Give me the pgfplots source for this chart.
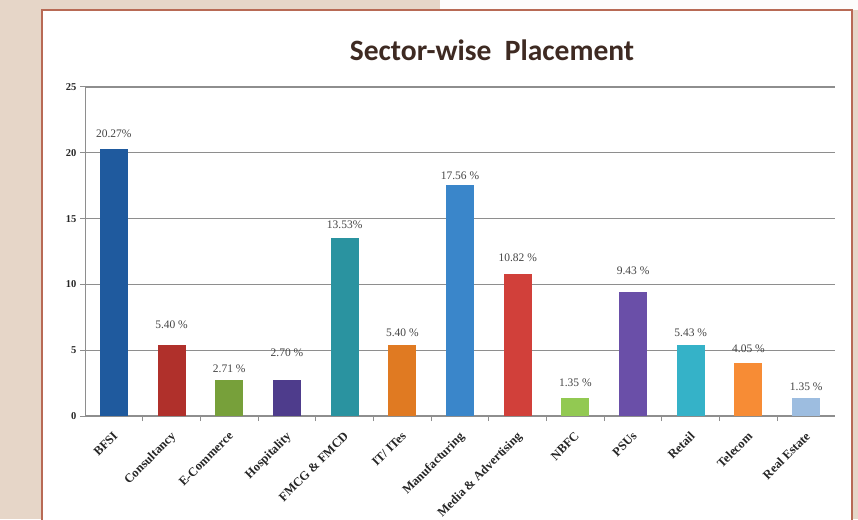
\documentclass[border=0pt]{standalone}
\usepackage{pgfplots}
\pgfplotsset{compat=1.18}
\usepackage{fontspec}
\setmainfont{Liberation Serif}
\newfontfamily\titlefont{Carlito}

\definecolor{bgbeige}{HTML}{E6D6C8}
\definecolor{framebrown}{HTML}{B86A55}
\definecolor{titlebrown}{HTML}{3E2A22}
\definecolor{labelgray}{HTML}{444444}
\definecolor{gridgray}{HTML}{8E8E8E}
\definecolor{cBFSI}{HTML}{1F5A9E}
\definecolor{cCons}{HTML}{B0302B}
\definecolor{cEcom}{HTML}{77A03A}
\definecolor{cHosp}{HTML}{4E3C8C}
\definecolor{cFMCG}{HTML}{2A93A0}
\definecolor{cIT}{HTML}{E07A22}
\definecolor{cManu}{HTML}{3A86CA}
\definecolor{cMedia}{HTML}{D1403A}
\definecolor{cNBFC}{HTML}{92C952}
\definecolor{cPSU}{HTML}{6A4FA8}
\definecolor{cRetail}{HTML}{35B2C8}
\definecolor{cTel}{HTML}{F78C35}
\definecolor{cReal}{HTML}{9DBDE0}

\begin{document}
\begin{tikzpicture}
\useasboundingbox (0pt,0pt) rectangle (858pt,519pt);
\fill[bgbeige] (0pt,0pt) rectangle (858pt,519pt);
\fill[white!92!bgbeige] (440pt,509pt) rectangle (858pt,519pt);
\fill[white, draw=framebrown, line width=1.5pt] (42pt,-5pt) rectangle (852pt,509pt);
\node[font=\titlefont\bfseries\fontsize{29.5}{31}\selectfont, text=titlebrown] at (492pt,469pt) {Sector-wise\ \ Placement};

\begin{axis}[
    at={(85pt,103pt)}, anchor=south west,
    scale only axis,
    width=750pt, height=329pt,
    xmin=-0.5, xmax=12.5,
    ymin=0, ymax=25,
    ytick={0,5,...,25},
    xtick={0,...,12},
    xticklabels={BFSI, Consultancy, E-Commerce, Hospitality, FMCG \& FMCD, IT/ ITes, Manufacturing, Media \& Advertising, NBFC, PSUs, Retail, Telecom, Real Estate},
    minor x tick num=1,
    major x tick style={draw=none},
    tick align=outside,
    tick style={gridgray, line width=1pt},
    major tick length=5pt, minor tick length=5pt,
    axis x line*=bottom, axis y line*=left,
    axis line style={gridgray, line width=1pt, -},
    ymajorgrids,
    grid style={gridgray, line width=1.3pt},
    /pgf/number format/assume math mode=true,
    yticklabel style={font=\bfseries\fontsize{10.5}{12}\selectfont, text=black!85},
    xticklabel style={font=\bfseries\fontsize{12.5}{13}\selectfont, text=black!85, rotate=45, anchor=north east, inner sep=0pt, xshift=-8pt, yshift=-6pt},
    ybar, bar width=28pt, bar shift=0pt,
    point meta=explicit symbolic,
    nodes near coords,
    nodes near coords style={font=\fontsize{11.5}{12}\selectfont, text=labelgray, anchor=south, inner sep=0pt},
]
\addplot[fill=cBFSI, draw=none, nodes near coords style={yshift=11pt}] coordinates {(0,20.27) [20.27\%]};
\addplot[fill=cCons, draw=none, nodes near coords style={yshift=16pt}] coordinates {(1,5.40) [5.40 \%]};
\addplot[fill=cEcom, draw=none, nodes near coords style={yshift=7pt}] coordinates {(2,2.71) [2.71 \%]};
\addplot[fill=cHosp, draw=none, nodes near coords style={yshift=24pt}] coordinates {(3,2.70) [2.70 \%]};
\addplot[fill=cFMCG, draw=none, nodes near coords style={yshift=9pt}] coordinates {(4,13.53) [13.53\%]};
\addplot[fill=cIT, draw=none, nodes near coords style={yshift=8pt}] coordinates {(5,5.40) [5.40 \%]};
\addplot[fill=cManu, draw=none, nodes near coords style={yshift=5pt}] coordinates {(6,17.56) [17.56 \%]};
\addplot[fill=cMedia, draw=none, nodes near coords style={yshift=12pt}] coordinates {(7,10.82) [10.82 \%]};
\addplot[fill=cNBFC, draw=none, nodes near coords style={yshift=11pt}] coordinates {(8,1.35) [1.35 \%]};
\addplot[fill=cPSU, draw=none, nodes near coords style={yshift=17pt}] coordinates {(9,9.43) [9.43 \%]};
\addplot[fill=cRetail, draw=none, nodes near coords style={yshift=8pt}] coordinates {(10,5.43) [5.43 \%]};
\addplot[fill=cTel, draw=none, nodes near coords style={yshift=10pt}] coordinates {(11,4.05) [4.05 \%]};
\addplot[fill=cReal, draw=none, nodes near coords style={yshift=7pt}] coordinates {(12,1.35) [1.35 \%]};
\end{axis}
\end{tikzpicture}
\end{document}
